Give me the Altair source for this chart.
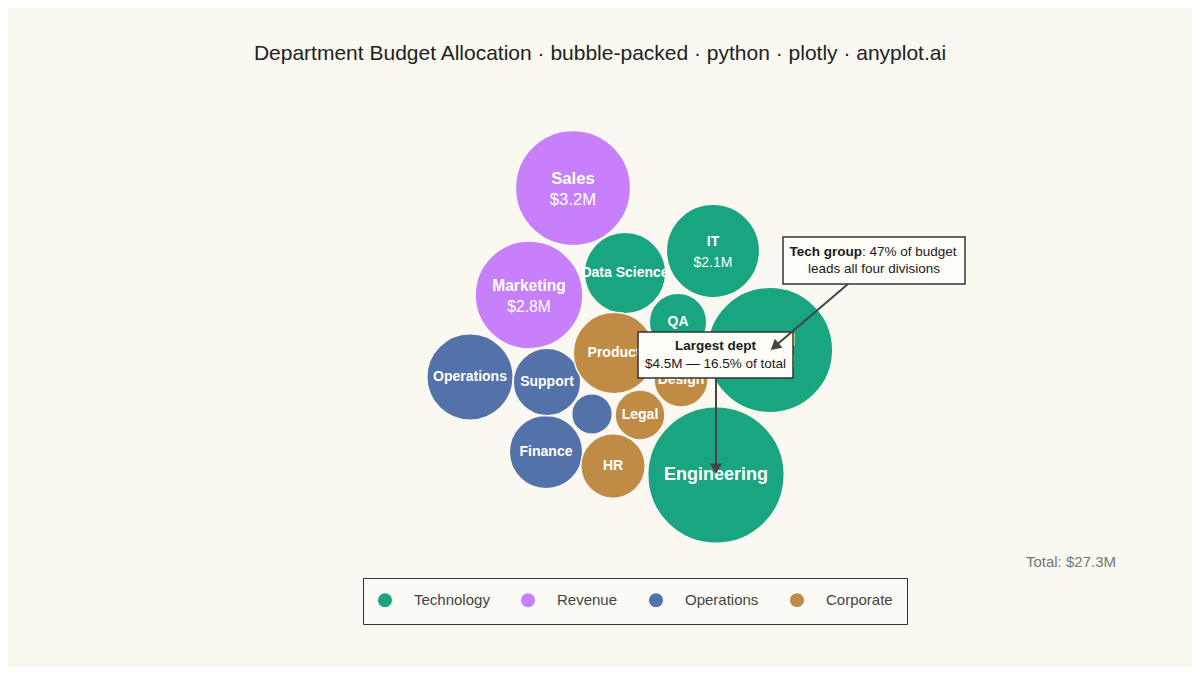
import altair as alt
import pandas as pd

# Department budgets ($M) and packed-layout coordinates
departments = ["Engineering", "Cloud", "IT", "Data Science", "QA",
               "Sales", "Marketing",
               "Operations", "Finance", "Support", "Facilities",
               "Product", "HR", "Design", "Legal"]
groups = ["Technology"] * 5 + ["Revenue"] * 2 + ["Operations"] * 4 + ["Corporate"] * 4
budgets = [4.5, 3.8, 2.1, 1.6, 0.8,
           3.2, 2.8,
           1.8, 1.3, 1.1, 0.4,
           1.6, 1.0, 0.7, 0.6]
pack_x = [116, 170, 113, 25, 78,
          -27, -71,
          -130, -54, -53, -8,
          14, 13, 81, 40]
pack_y = [-137.5, -12.5, 86.5, 64.5, 15.5,
          149.5, 42.5,
          -39.5, -114.5, -44.5, -76.5,
          -15.5, -128.5, -42.5, -77.5]

group_order = ["Technology", "Revenue", "Operations", "Corporate"]
group_colors = ["#19a57f", "#c77ffa", "#5372a9", "#c08b44"]

W, H = 1184, 659
K = 32.2  # px of radius per sqrt($M)
BG = "#faf8f1"

df = pd.DataFrame({"dept": departments, "group": groups, "budget": budgets,
                   "x": pack_x, "y": pack_y})
df["r"] = K * df["budget"] ** 0.5
df["fs"] = (df["r"] * 0.29).clip(14, 18)
df["value"] = df["budget"].map(lambda v: f"${v:.1f}M")
total = df["budget"].sum()
largest = df.loc[df["budget"].idxmax()]
df["show_value"] = (df["budget"] >= 2.0) & (df["dept"] != largest["dept"])
df["show_name"] = df["r"] >= 22
tech_share = df.loc[df["group"] == "Technology", "budget"].sum() / total

xs = alt.Scale(domain=[-W / 2, W / 2])
ys = alt.Scale(domain=[-H / 2, H / 2])
X = alt.X("x:Q", scale=xs, axis=None)
Y = alt.Y("y:Q", scale=ys, axis=None)

base = alt.Chart(df)

# Bubbles, sized so that area follows budget
bubbles = base.mark_circle(opacity=1, stroke=BG, strokeWidth=1.5).encode(
    x=X, y=Y,
    size=alt.Size("budget:Q", scale=alt.Scale(domain=[0, 4.5], range=[0, 4 * K * K * 4.5]), legend=None),
    color=alt.Color("group:N", scale=alt.Scale(domain=group_order, range=group_colors),
                    legend=alt.Legend(title=None, orient="none", direction="horizontal",
                                      legendX=355, legendY=570, symbolType="circle",
                                      symbolSize=225, symbolStrokeColor="white",
                                      symbolStrokeWidth=1, symbolOpacity=1,
                                      labelFontSize=15, labelColor="#444",
                                      labelFont="Liberation Sans", labelOffset=21,
                                      columnPadding=28, padding=14,
                                      strokeColor="#333",
                                      fillColor="#fcfaf4", cornerRadius=0)),
)

# White labels inside the bubbles
label_style = dict(color="white", font="Liberation Sans", baseline="middle", align="center")
names_plain = base.transform_filter("datum.show_name && !datum.show_value").mark_text(
    fontWeight="bold", **label_style).encode(
    x=X, y=Y, text="dept:N", size=alt.Size("fs:Q", scale=None, legend=None))
names_top = base.transform_filter("datum.show_value").mark_text(
    fontWeight="bold", dy=-9, **label_style).encode(
    x=X, y=Y, text="dept:N", size=alt.Size("fs:Q", scale=None, legend=None))
values = base.transform_filter("datum.show_value").mark_text(
    dy=12, **label_style).encode(
    x=X, y=Y, text="value:N", size=alt.Size("fs:Q", scale=None, legend=None))

# Annotation boxes (data units of the layout)
boxes = pd.DataFrame({"x": [38, 183], "x2": [193, 365], "y": [5.5, 100.5], "y2": [-40.5, 53.5]})
box_layer = alt.Chart(boxes).mark_rect(fill="#fffdf8", stroke="#333", strokeWidth=1.5).encode(
    x=alt.X("x:Q", scale=xs, axis=None), x2="x2:Q",
    y=alt.Y("y:Q", scale=ys, axis=None), y2="y2:Q")

ann_text = pd.DataFrame({
    "x": [115.5, 115.5, 262, 262, 274],
    "y": [-8.5, -26.5, 85.5, 85.5, 68.5],
    "t": ["Largest dept",
          f"${largest['budget']:.1f}M — {largest['budget'] / total * 100:.1f}% of total",
          "Tech group", f": {tech_share * 100:.0f}% of budget", "leads all four divisions"],
    "w": ["bold", "normal", "bold", "normal", "normal"],
    "a": ["center", "center", "right", "left", "center"],
})
ann_layers = []
for _, row in ann_text.iterrows():
    ann_layers.append(
        alt.Chart(pd.DataFrame([row])).mark_text(
            fontSize=13.5, font="Liberation Sans", color="#1a1a1a", baseline="middle",
            fontWeight=row["w"], align=row["a"]).encode(
            x=alt.X("x:Q", scale=xs, axis=None), y=alt.Y("y:Q", scale=ys, axis=None), text="t:N"))

# Arrows: shaft + rotated triangle head
arrows = pd.DataFrame({"x": [116, 248], "y": [-40.5, 53.5], "x2": [116, 174.7], "y2": [-131.3, -9.1],
                       "angle": [180, 230]})
arrow_lines = alt.Chart(arrows).mark_rule(color="#444", strokeWidth=2).encode(
    x=alt.X("x:Q", scale=xs, axis=None), x2="x2:Q",
    y=alt.Y("y:Q", scale=ys, axis=None), y2="y2:Q")
arrow_heads = alt.Chart(arrows).mark_point(shape="triangle-up", filled=True, color="#444",
                                           size=144, opacity=1).encode(
    x=alt.X("x2:Q", scale=xs, axis=None), y=alt.Y("y2:Q", scale=ys, axis=None),
    angle=alt.Angle("angle:Q", scale=None))

total_text = alt.Chart(pd.DataFrame({"x": [516], "y": [-224.5], "t": [f"Total: ${total:.1f}M"]})).mark_text(
    align="right", baseline="middle", fontSize=15, color="#777", font="Liberation Sans").encode(
    x=alt.X("x:Q", scale=xs, axis=None), y=alt.Y("y:Q", scale=ys, axis=None), text="t:N")

chart = alt.layer(bubbles, names_plain, names_top, values, box_layer, *ann_layers,
                  arrow_lines, arrow_heads, total_text).properties(
    width=W, height=H,
    autosize=alt.AutoSizeParams(type="none"),
    padding=0,
    background=BG,
    title=alt.TitleParams("Department Budget Allocation · bubble-packed · python · plotly · anyplot.ai",
                          anchor="middle", frame="group", offset=-56, fontSize=21,
                          fontWeight="normal", color="#222", font="Liberation Sans"),
).configure_view(stroke=None)

chart.save("out.html", embed_options={"renderer": "svg", "actions": False})
